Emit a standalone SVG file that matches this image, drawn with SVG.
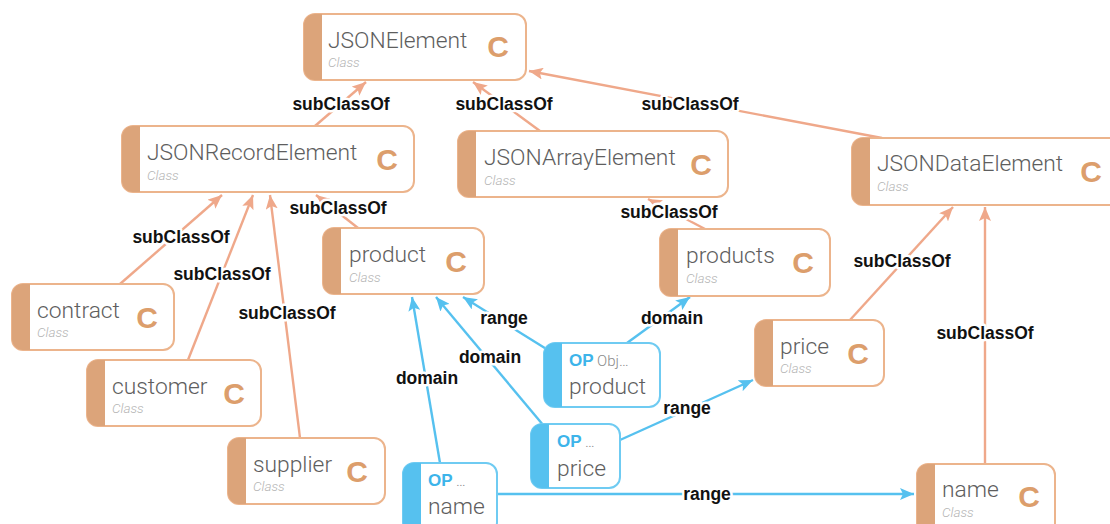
<svg xmlns="http://www.w3.org/2000/svg" width="1110" height="524" viewBox="0 0 1110 524">
  <defs>
    <style>
      .box-c { fill: #ffffff; stroke: #ecb48c; stroke-width: 2; }
      .band-c { fill: #dca47a; }
      .box-p { fill: #ffffff; stroke: #6fcbf2; stroke-width: 2; }
      .band-p { fill: #56c1ef; }
      .title { font-family: Roboto, "Liberation Sans", sans-serif; font-weight: 300; font-size: 22.8px; fill: #5e5e5e; }
      .kind { font-family: Roboto, "Liberation Sans", sans-serif; font-style: italic; font-weight: 300; font-size: 13.5px; fill: #b4b4b4; }
      .cc { font-family: "Liberation Sans", Arial, sans-serif; font-weight: bold; font-size: 30px; fill: #dc9e6c; text-anchor: middle; }
      .op { font-family: "Liberation Sans", Arial, sans-serif; font-weight: bold; font-size: 17px; fill: #3db4ea; }
      .opx { font-family: Roboto, "Liberation Sans", sans-serif; font-weight: 300; font-size: 15px; fill: #8a8a8a; }
      .sub { stroke: #efa88a; stroke-width: 2.4; fill: none; marker-end: url(#ah-o); }
      .rel { stroke: #56c1ef; stroke-width: 2.4; fill: none; marker-end: url(#ah-b); }
      .lbl { font-family: "Liberation Sans", Arial, sans-serif; font-weight: bold; font-size: 17.5px; fill: #111111; text-anchor: middle; dominant-baseline: central; stroke: #ffffff; stroke-width: 5; stroke-linejoin: round; paint-order: stroke; }
    </style>
    <marker id="ah-o" viewBox="0 0 14 12" refX="14" refY="6" markerWidth="14" markerHeight="12" markerUnits="userSpaceOnUse" orient="auto">
      <path d="M0,0 L14,6 L0,12 L3,6 Z" fill="#efa88a"/>
    </marker>
    <marker id="ah-b" viewBox="0 0 14 12" refX="14" refY="6" markerWidth="14" markerHeight="12" markerUnits="userSpaceOnUse" orient="auto">
      <path d="M0,0 L14,6 L0,12 L3,6 Z" fill="#56c1ef"/>
    </marker>
  </defs>

  <rect width="1110" height="524" fill="#ffffff"/>

  <!-- connectors -->
  <g id="edges">
    <line class="sub" x1="315" y1="126" x2="366" y2="82"/>
    <line class="sub" x1="540" y1="131" x2="473" y2="82"/>
    <line class="sub" x1="882" y1="138" x2="529" y2="71"/>
    <line class="sub" x1="120" y1="284" x2="222" y2="195"/>
    <line class="sub" x1="188" y1="360" x2="253" y2="195"/>
    <line class="sub" x1="300" y1="438" x2="270" y2="195"/>
    <line class="sub" x1="358" y1="228" x2="316" y2="195"/>
    <line class="sub" x1="705" y1="229" x2="648" y2="199"/>
    <line class="sub" x1="850" y1="320" x2="953" y2="207"/>
    <line class="sub" x1="985" y1="464" x2="985" y2="207"/>

    <line class="rel" x1="627" y1="343" x2="690" y2="297"/>
    <line class="rel" x1="548" y1="350" x2="463" y2="297"/>
    <line class="rel" x1="549" y1="432" x2="436" y2="297"/>
    <line class="rel" x1="440" y1="463" x2="412" y2="297"/>
    <line class="rel" x1="620" y1="440" x2="753" y2="380"/>
    <line class="rel" x1="497" y1="494" x2="914" y2="494"/>

    <text class="lbl" x="341" y="104">subClassOf</text>
    <text class="lbl" x="504" y="104">subClassOf</text>
    <text class="lbl" x="690" y="104">subClassOf</text>
    <text class="lbl" x="181" y="237">subClassOf</text>
    <text class="lbl" x="222" y="274">subClassOf</text>
    <text class="lbl" x="287" y="313">subClassOf</text>
    <text class="lbl" x="338" y="208">subClassOf</text>
    <text class="lbl" x="669" y="212">subClassOf</text>
    <text class="lbl" x="902" y="261">subClassOf</text>
    <text class="lbl" x="985" y="333">subClassOf</text>
    <text class="lbl" x="672" y="318">domain</text>
    <text class="lbl" x="504" y="318">range</text>
    <text class="lbl" x="490" y="357">domain</text>
    <text class="lbl" x="427" y="378">domain</text>
    <text class="lbl" x="687" y="408">range</text>
    <text class="lbl" x="707" y="494">range</text>
  </g>

  <!-- class nodes -->
  <g id="JSONElement">
    <rect class="box-c" x="304" y="14" width="222" height="66" rx="11"/>
    <path class="band-c" d="M322,14 H315 A11,11 0 0 0 304,25 V69 A11,11 0 0 0 315,80 H322 Z"/>
    <text class="title" x="328" y="48">JSONElement</text>
    <text class="kind" x="328" y="67">Class</text>
    <text class="cc" x="498" y="57">C</text>
  </g>
  <g id="JSONRecordElement">
    <rect class="box-c" x="122" y="126" width="292" height="66" rx="11"/>
    <path class="band-c" d="M140,126 H133 A11,11 0 0 0 122,137 V181 A11,11 0 0 0 133,192 H140 Z"/>
    <text class="title" x="147" y="160">JSONRecordElement</text>
    <text class="kind" x="147" y="180">Class</text>
    <text class="cc" x="387" y="170">C</text>
  </g>
  <g id="JSONArrayElement">
    <rect class="box-c" x="458" y="131" width="270" height="66" rx="11"/>
    <path class="band-c" d="M476,131 H469 A11,11 0 0 0 458,142 V186 A11,11 0 0 0 469,197 H476 Z"/>
    <text class="title" x="484" y="165">JSONArrayElement</text>
    <text class="kind" x="484" y="185">Class</text>
    <text class="cc" x="701" y="175">C</text>
  </g>
  <g id="JSONDataElement">
    <rect class="box-c" x="852" y="138" width="270" height="67" rx="11"/>
    <path class="band-c" d="M870,138 H863 A11,11 0 0 0 852,149 V194 A11,11 0 0 0 863,205 H870 Z"/>
    <text class="title" x="877" y="171">JSONDataElement</text>
    <text class="kind" x="877" y="191">Class</text>
    <text class="cc" x="1091" y="182">C</text>
  </g>
  <g id="product">
    <rect class="box-c" x="323" y="228" width="161" height="66" rx="11"/>
    <path class="band-c" d="M341,228 H334 A11,11 0 0 0 323,239 V283 A11,11 0 0 0 334,294 H341 Z"/>
    <text class="title" x="349" y="262">product</text>
    <text class="kind" x="349" y="282">Class</text>
    <text class="cc" x="456" y="272">C</text>
  </g>
  <g id="products">
    <rect class="box-c" x="660" y="229" width="170" height="67" rx="11"/>
    <path class="band-c" d="M678,229 H671 A11,11 0 0 0 660,240 V285 A11,11 0 0 0 671,296 H678 Z"/>
    <text class="title" x="686" y="263">products</text>
    <text class="kind" x="686" y="283">Class</text>
    <text class="cc" x="803" y="273">C</text>
  </g>
  <g id="contract">
    <rect class="box-c" x="12" y="284" width="162" height="66" rx="11"/>
    <path class="band-c" d="M30,284 H23 A11,11 0 0 0 12,295 V339 A11,11 0 0 0 23,350 H30 Z"/>
    <text class="title" x="37" y="318">contract</text>
    <text class="kind" x="37" y="337">Class</text>
    <text class="cc" x="147" y="328">C</text>
  </g>
  <g id="customer">
    <rect class="box-c" x="87" y="360" width="174" height="66" rx="11"/>
    <path class="band-c" d="M105,360 H98 A11,11 0 0 0 87,371 V415 A11,11 0 0 0 98,426 H105 Z"/>
    <text class="title" x="112" y="394">customer</text>
    <text class="kind" x="112" y="413">Class</text>
    <text class="cc" x="234" y="404">C</text>
  </g>
  <g id="supplier">
    <rect class="box-c" x="228" y="438" width="157" height="66" rx="11"/>
    <path class="band-c" d="M246,438 H239 A11,11 0 0 0 228,449 V493 A11,11 0 0 0 239,504 H246 Z"/>
    <text class="title" x="253" y="472">supplier</text>
    <text class="kind" x="253" y="491">Class</text>
    <text class="cc" x="357" y="482">C</text>
  </g>
  <g id="price">
    <rect class="box-c" x="755" y="320" width="129" height="66" rx="11"/>
    <path class="band-c" d="M773,320 H766 A11,11 0 0 0 755,331 V375 A11,11 0 0 0 766,386 H773 Z"/>
    <text class="title" x="780" y="354">price</text>
    <text class="kind" x="780" y="373">Class</text>
    <text class="cc" x="858" y="364">C</text>
  </g>
  <g id="name">
    <rect class="box-c" x="917" y="464" width="138" height="70" rx="11"/>
    <path class="band-c" d="M935,464 H928 A11,11 0 0 0 917,475 V523 A11,11 0 0 0 928,534 H935 Z"/>
    <text class="title" x="942" y="497">name</text>
    <text class="kind" x="942" y="517">Class</text>
    <text class="cc" x="1029" y="507">C</text>
  </g>

  <!-- object property nodes -->
  <g id="op-product">
    <rect class="box-p" x="544" y="343" width="116" height="64" rx="11"/>
    <path class="band-p" d="M562,343 H555 A11,11 0 0 0 544,354 V396 A11,11 0 0 0 555,407 H562 Z"/>
    <text class="op" x="569" y="366">OP</text>
    <text class="opx" x="597" y="366">Obj…</text>
    <text class="title" x="569" y="394">product</text>
  </g>
  <g id="op-price">
    <rect class="box-p" x="531" y="424" width="89" height="64" rx="11"/>
    <path class="band-p" d="M549,424 H542 A11,11 0 0 0 531,435 V477 A11,11 0 0 0 542,488 H549 Z"/>
    <text class="op" x="557" y="447">OP</text>
    <text class="opx" x="585" y="447">…</text>
    <text class="title" x="557" y="476">price</text>
  </g>
  <g id="op-name">
    <rect class="box-p" x="403" y="463" width="94" height="70" rx="11"/>
    <path class="band-p" d="M421,463 H414 A11,11 0 0 0 403,474 V522 A11,11 0 0 0 414,533 H421 Z"/>
    <text class="op" x="428" y="486">OP</text>
    <text class="opx" x="456" y="486">…</text>
    <text class="title" x="428" y="514">name</text>
  </g>
</svg>
